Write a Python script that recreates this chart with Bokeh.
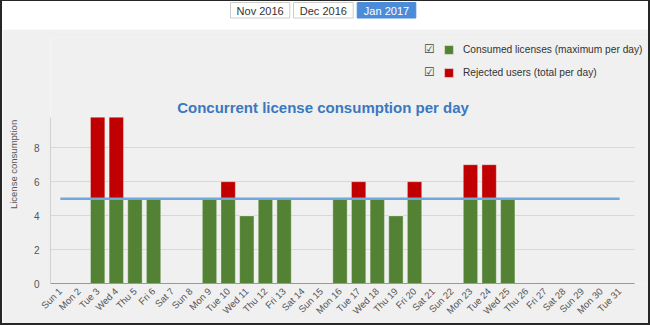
import math
from bokeh.plotting import figure
from bokeh.layouts import column
from bokeh.models import Range1d, FixedTicker, Label, Legend, LegendItem
from bokeh.core.properties import value
from bokeh.embed import file_html
from bokeh.resources import INLINE

# ---- data ----
day_names = ["Sun", "Mon", "Tue", "Wed", "Thu", "Fri", "Sat"]
days = list(range(1, 32))
day_labels = [f"{day_names[(d - 1) % 7]} {d}" for d in days]
consumed = [0, 0, 5, 5, 5, 5, 0, 0, 5, 5, 4, 5, 5, 0, 0, 5, 5, 5, 4, 5, 0, 0, 5, 5, 5, 0, 0, 0, 0, 0, 0]
rejected = [0, 0, 4.8, 4.8, 0, 0, 0, 0, 0, 1, 0, 0, 0, 0, 0, 0, 1, 0, 0, 1, 0, 0, 2, 2, 0, 0, 0, 0, 0, 0, 0]
license_limit = [5] * 31
y_ticks = [0, 2, 4, 6, 8]
months = ["Nov 2016", "Dec 2016", "Jan 2017"]
series_names = ["Consumed licenses (maximum per day)", "Rejected users (total per day)"]
chart_title = "Concurrent license consumption per day"
y_title = "License consumption"

GREEN = "#548235"
RED = "#c00000"
BLUE_LINE = "#6fa8dc"
BG = "#f0f0f0"
FONT = "Liberation Sans"

W = 646
X0, X1 = 0.47, 31.8          # visible category span
X1_FRAME = 32.55             # frame extends further right for the legend text
Y_TOP = 9.8

# ---- top band with month buttons ----
top = figure(width=W, height=28, output_backend="svg", toolbar_location=None,
             x_range=Range1d(50, 648), y_range=Range1d(29, 1),
             min_border_left=48, min_border_right=0, min_border_top=0, min_border_bottom=0,
             background_fill_color="white", border_fill_color="white",
             outline_line_color=None)
top.axis.visible = False
top.grid.visible = False
btn_left = [230, 293, 356.7]
btn_right = [289.3, 352.7, 415.3]
btn_fill = ["white", "white", "#4b8bd8"]
btn_line = ["#cccccc", "#cccccc", "#4b8bd8"]
btn_text = ["#333333", "#333333", "white"]
top.quad(left=btn_left, right=btn_right, top=[2] * 3, bottom=[17.5] * 3,
         fill_color=btn_fill, line_color=btn_line)
top.text(x=[(a + b) / 2 for a, b in zip(btn_left, btn_right)], y=[10] * 3, text=months,
         text_align="center", text_baseline="middle", text_font=value(FONT),
         text_font_size="11px", text_color=btn_text)

# ---- main chart ----
p = figure(width=W, height=294, output_backend="svg", toolbar_location=None,
           x_range=Range1d(X0, X1_FRAME), y_range=Range1d(0, 14.5),
           min_border_left=48, min_border_right=0, min_border_top=8, min_border_bottom=40,
           background_fill_color=BG, border_fill_color=BG, outline_line_color=None)

green_bottom = [0] * 31
red_top = [c + r for c, r in zip(consumed, rejected)]
r_green = p.vbar(x=days, bottom=green_bottom, top=consumed, width=0.77,
                 fill_color=GREEN, line_color="white", line_alpha=0.35)
r_red = p.vbar(x=days, bottom=consumed, top=red_top, width=0.77,
               fill_color=RED, line_color="white", line_alpha=0.35)
p.line(x=days, y=license_limit, line_color=BLUE_LINE, line_width=2.5)

p.xgrid.visible = False
p.ygrid.grid_line_color = "#d8d8d8"
p.ygrid.ticker = FixedTicker(ticks=y_ticks)
p.ygrid.cross_bounds = (X0, X1)

p.yaxis.ticker = FixedTicker(ticks=y_ticks)
p.yaxis.bounds = (0, Y_TOP)
p.yaxis.axis_label = y_title + "\u00a0\u00a0\u00a0"
p.yaxis.axis_label_text_font = FONT
p.yaxis.axis_label_text_font_style = "normal"
p.yaxis.axis_label_text_font_size = "9.5px"
p.yaxis.axis_label_text_color = "#555555"
p.yaxis.axis_label_standoff = 12
p.yaxis.major_label_text_font = FONT
p.yaxis.major_label_text_font_size = "10px"
p.yaxis.major_label_text_color = "#555555"
p.yaxis.major_label_standoff = 5
p.yaxis.major_tick_line_color = None
p.yaxis.minor_tick_line_color = None
p.yaxis.axis_line_color = "#d0d0d0"

p.xaxis.ticker = FixedTicker(ticks=days)
p.xaxis.bounds = (X0, X1)
p.xaxis.major_label_overrides = {d: lab for d, lab in zip(days, day_labels)}
p.xaxis.major_label_orientation = math.pi / 4
p.xaxis.major_label_text_font = FONT
p.xaxis.major_label_text_font_size = "9.5px"
p.xaxis.major_label_text_color = "#555555"
p.xaxis.major_label_standoff = 0
p.xaxis.major_tick_line_color = None
p.xaxis.minor_tick_line_color = None
p.xaxis.axis_line_color = "#999999"

# title (inside the frame, above the bars)
p.add_layout(Label(x=15.09, y=10.4, text=chart_title,
                   text_align="center", text_baseline="middle",
                   text_font=FONT, text_font_style="bold", text_font_size="15px",
                   text_color="#3a78c0"))

legend = Legend(items=[LegendItem(label=series_names[0], renderers=[r_green]),
                       LegendItem(label=series_names[1], renderers=[r_red])],
                location=(393, 200.5), padding=0, margin=0, spacing=3,
                glyph_width=11, glyph_height=11, label_standoff=9, label_height=20,
                label_text_font=FONT, label_text_font_size="10.2px", label_text_color="#333333",
                border_line_color=None, background_fill_alpha=0)
p.add_layout(legend, "center")

for cy in (13.8, 12.45):
    p.add_layout(Label(x=20.8, y=cy, text="\u2611",
                       text_align="center", text_baseline="middle",
                       text_font="DejaVu Sans", text_font_size="12px", text_color="#444444"))

layout = column(top, p, spacing=0)
layout.styles = {"border-top": "1px solid #262626", "border-left": "2px solid #262626",
                 "border-right": "2px solid #262626", "border-bottom": "2px solid #262626",
                 "box-sizing": "border-box", "width": "650px", "height": "325px"}

open("out.html", "w").write(file_html(layout, INLINE))
